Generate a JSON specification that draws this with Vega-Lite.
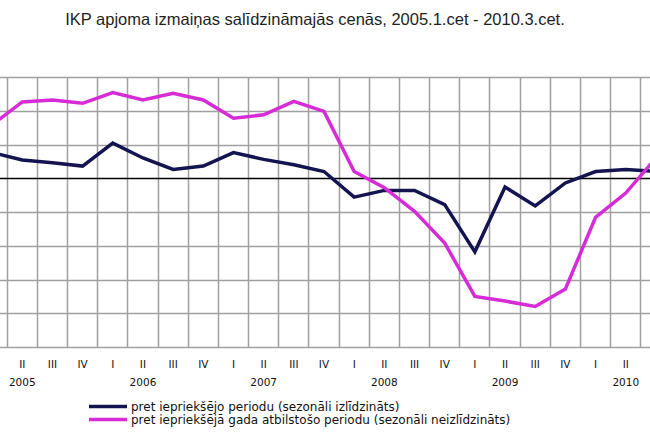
{
  "$schema": "https://vega.github.io/schema/vega-lite/v6.json",
  "width": 694,
  "height": 270,
  "autosize": {"type": "none"},
  "padding": {"left": -23, "top": 77, "right": 0, "bottom": 93},
  "background": "white",
  "config": {"view": {"stroke": null}},
  "title": {
    "text": "IKP apjoma izmaiņas salīdzināmajās cenās, 2005.1.cet - 2010.3.cet.",
    "font": "Liberation Sans",
    "fontSize": 16.5,
    "fontWeight": "normal",
    "color": "#1e1e1e",
    "anchor": "middle",
    "frame": "group",
    "dx": -9,
    "offset": 49
  },
  "data": {
    "values": [
      {"period": "2005.1", "qoq": 3.8, "yoy": 7.9},
      {"period": "2005.2", "qoq": 2.7, "yoy": 11.3},
      {"period": "2005.3", "qoq": 2.3, "yoy": 11.6},
      {"period": "2005.4", "qoq": 1.8, "yoy": 11.1},
      {"period": "2006.1", "qoq": 5.2, "yoy": 12.7},
      {"period": "2006.2", "qoq": 3.0, "yoy": 11.6},
      {"period": "2006.3", "qoq": 1.3, "yoy": 12.6},
      {"period": "2006.4", "qoq": 1.8, "yoy": 11.6},
      {"period": "2007.1", "qoq": 3.8, "yoy": 8.9},
      {"period": "2007.2", "qoq": 2.8, "yoy": 9.4},
      {"period": "2007.3", "qoq": 2.0, "yoy": 11.4},
      {"period": "2007.4", "qoq": 1.0, "yoy": 9.9},
      {"period": "2008.1", "qoq": -2.8, "yoy": 1.0},
      {"period": "2008.2", "qoq": -1.8, "yoy": -1.4},
      {"period": "2008.3", "qoq": -1.8, "yoy": -4.9},
      {"period": "2008.4", "qoq": -3.9, "yoy": -9.6},
      {"period": "2009.1", "qoq": -10.9, "yoy": -17.5},
      {"period": "2009.2", "qoq": -1.3, "yoy": -18.2},
      {"period": "2009.3", "qoq": -4.1, "yoy": -19.0},
      {"period": "2009.4", "qoq": -0.7, "yoy": -16.4},
      {"period": "2010.1", "qoq": 1.0, "yoy": -5.8},
      {"period": "2010.2", "qoq": 1.3, "yoy": -2.2},
      {"period": "2010.3", "qoq": 1.0, "yoy": 3.0}
    ]
  },
  "transform": [{"fold": ["qoq", "yoy"], "as": ["key", "value"]}],
  "encoding": {
    "y": {
      "field": "value",
      "type": "quantitative",
      "scale": {"domain": [-25, 15], "nice": false, "zero": false},
      "axis": {
        "title": null,
        "labels": false,
        "ticks": false,
        "domain": false,
        "values": [-25, -20, -15, -10, -5, 0, 5, 10, 15],
        "gridColor": {"condition": {"test": "datum.value === 0", "value": "#000000"}, "value": "#a0a0a0"},
        "gridWidth": 1.5
      }
    },
    "color": {
      "field": "key",
      "type": "nominal",
      "scale": {"domain": ["qoq", "yoy"], "range": ["#141450", "#d62bd6"]},
      "legend": {
        "title": null,
        "orient": "none",
        "legendX": 110,
        "legendY": 323,
        "padding": 0,
        "symbolType": "stroke",
        "symbolSize": 1444,
        "symbolStrokeWidth": 3.5,
        "clipHeight": 13,
        "rowPadding": 0,
        "labelOffset": 2,
        "labelFont": "DejaVu Sans",
        "labelFontSize": 12,
        "labelColor": "#111111",
        "labelLimit": 600,
        "labelExpr": "datum.value == 'qoq' ? 'pret iepriekšējo periodu (sezonāli izlīdzināts)' : 'pret iepriekšējā gada atbilstošo periodu (sezonāli neizlīdzināts)'"
      }
    }
  },
  "layer": [
    {
      "transform": [{"filter": "datum.key == 'qoq'"}],
      "mark": {"type": "line", "strokeWidth": 3.5},
      "encoding": {
        "x": {
          "field": "period",
          "type": "ordinal",
          "sort": null,
          "scale": {"type": "band", "paddingInner": 0, "paddingOuter": 0},
          "axis": {
            "orient": "bottom",
            "title": null,
            "grid": false,
            "ticks": false,
            "domain": false,
            "labelAngle": 0,
            "labelFont": "DejaVu Sans",
            "labelFontSize": 10.5,
            "labelColor": "#111111",
            "labelPadding": 12,
            "labelBaseline": "top",
            "labelLineHeight": 18,
            "labelOverlap": false,
            "labelExpr": "substring(datum.value,5,6) == '1' ? 'I' : substring(datum.value,5,6) == '2' ? ['II', substring(datum.value,0,4)] : substring(datum.value,5,6) == '3' ? 'III' : 'IV'"
          }
        }
      }
    },
    {
      "transform": [{"filter": "datum.key == 'yoy'"}],
      "mark": {"type": "line", "strokeWidth": 3.5},
      "encoding": {
        "x": {
          "field": "period",
          "type": "ordinal",
          "sort": null,
          "scale": {"type": "band", "paddingInner": 0, "paddingOuter": 0},
          "axis": {
            "orient": "bottom",
            "title": null,
            "labels": false,
            "ticks": false,
            "domain": false,
            "grid": true,
            "bandPosition": 0,
            "tickExtra": true,
            "gridColor": "#a0a0a0",
            "gridWidth": 1.5
          }
        }
      }
    }
  ],
  "resolve": {"axis": {"x": "independent"}}
}
